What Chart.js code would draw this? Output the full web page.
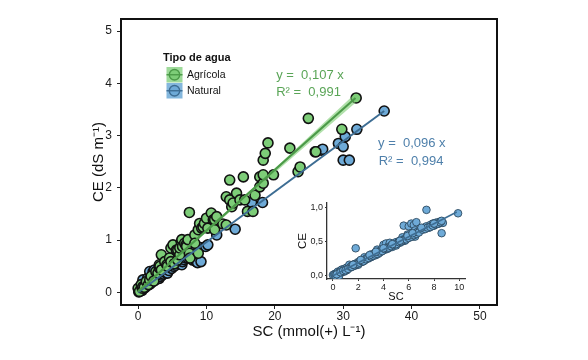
<!DOCTYPE html>
<html><head><meta charset="utf-8">
<script src="https://cdn.jsdelivr.net/npm/chart.js@4/dist/chart.umd.min.js"></script>
<style>
html,body{margin:0;padding:0;background:#fff;}
#wrap{position:relative;width:588px;height:360px;}
#main{position:absolute;left:0;top:0;}
#inset{position:absolute;left:280px;top:195px;}
</style></head>
<body>
<div id="wrap">
<canvas id="main" width="588" height="360"></canvas>
<canvas id="inset" width="195" height="110"></canvas>
</div>
<script>
// ---- data ----
const agricolaSC = [0.0,0.2,0.45,0.6,0.7,0.9,1.2,1.5,1.7,1.9,2.3,2.6,2.9,3.1,3.1,3.2,3.4,3.4,3.9,4.2,4.3,4.6,4.8,4.8,5.1,5.3,5.6,5.8,5.8,6.1,6.1,6.3,6.4,6.5,6.8,7.0,7.1,7.3,7.5,7.5,7.6,8.3,8.3,8.8,8.8,9.0,9.3,9.5,9.7,10.0,10.2,10.7,11.0,11.2,11.2,11.5,12.4,12.9,12.9,13.4,13.4,13.7,13.9,14.4,14.9,15.4,15.6,16.0,16.8,17.1,17.8,17.8,18.3,18.3,18.3,18.6,19.0,19.8,22.2,23.4,23.7,24.9,26.0,29.8,31.9];
const agricolaCE = [0.08,0.02,0.15,0.08,0.11,0.10,0.21,0.15,0.24,0.31,0.22,0.40,0.37,0.47,0.53,0.50,0.43,0.72,0.59,0.53,0.50,0.66,0.59,0.85,0.91,0.55,0.81,0.62,0.81,0.72,0.85,0.97,1.01,0.88,0.94,0.91,0.88,1.01,0.75,1.53,0.66,1.10,0.94,1.20,0.75,1.32,1.23,1.25,1.32,1.42,1.23,1.52,1.39,1.39,1.20,1.45,1.31,1.29,1.83,2.15,1.77,1.64,1.71,1.90,1.77,2.21,1.77,1.55,1.55,1.86,2.21,2.02,2.09,2.25,2.53,2.66,2.86,2.25,2.76,2.31,2.40,3.33,2.69,3.12,3.72];
const naturalSC = [0.1,0.3,0.5,0.6,0.7,0.8,0.9,1.0,1.2,1.4,1.4,1.6,1.7,1.8,2.0,2.2,2.3,2.4,2.5,2.7,2.9,3.1,3.2,3.5,3.7,4.0,4.3,4.5,4.6,4.8,4.9,5.2,5.5,5.8,6.3,6.4,6.5,6.7,7.0,7.3,7.4,7.8,8.0,8.2,8.5,8.5,8.7,9.1,9.2,9.9,10.2,11.5,14.2,16.6,18.2,25.9,26.8,27.0,29.3,30.0,30.3,30.0,30.9,32.0,36.0];
const naturalCE = [0.01,0.03,0.05,0.04,0.24,0.08,0.11,0.09,0.12,0.27,0.15,0.15,0.40,0.17,0.20,0.40,0.22,0.43,0.24,0.26,0.27,0.27,0.30,0.33,0.35,0.38,0.37,0.42,0.53,0.50,0.46,0.50,0.52,0.56,0.56,0.53,0.59,0.63,0.66,0.66,0.70,0.74,0.62,0.78,0.59,0.75,0.57,0.86,0.59,0.88,0.91,1.10,1.21,1.72,1.72,2.69,2.72,2.74,2.85,2.79,2.98,2.53,2.53,3.12,3.47];
// fitted lines and confidence band (as drawn)
const agricolaFitSC = [0, 31.8];
const agricolaFitCE = [0.02, 3.72];
const agricolaBandSC = [0, 10, 20, 31.8];
const agricolaBandLow = [0.00, 1.15, 2.29, 3.63];
const agricolaBandHigh = [0.04, 1.20, 2.37, 3.81];
const naturalFitSC = [0, 36.0];
const naturalFitCE = [0, 3.47];
// inset (Natural, low range)
const insetSC = [0.0,0.1,0.2,0.2,0.3,0.4,0.4,0.5,0.5,0.6,0.7,0.7,0.8,0.9,0.9,1.0,1.1,1.1,1.2,1.3,1.3,1.4,1.5,1.6,1.7,1.8,1.8,1.9,2.0,2.0,2.1,2.2,2.3,2.4,2.5,2.5,2.6,2.7,2.8,2.9,3.0,3.0,3.1,3.2,3.3,3.4,3.5,3.5,3.6,3.7,3.8,3.9,4.0,4.0,4.1,4.2,4.2,4.3,4.4,4.5,4.5,4.6,4.7,4.8,4.9,5.0,5.0,5.1,5.2,5.3,5.4,5.5,5.5,5.6,5.6,5.7,5.8,5.9,6.0,6.0,6.1,6.2,6.2,6.3,6.4,6.4,6.5,6.5,6.6,6.7,7.0,7.2,7.4,7.4,7.6,7.7,7.8,7.9,8.0,8.1,8.2,8.3,8.4,8.5,8.6,8.7,9.9,
  0.3,0.6,0.8,1.0,1.2,1.4,1.5,1.7,1.9,2.1,2.3,2.4,2.6,2.8,3.0,3.2,3.3,3.5,3.7,3.9,4.1,4.3,4.4,4.6,4.8,5.0,5.2,5.4,5.6,5.8,6.0,6.2,6.4,6.6,6.8,7.1,7.3,7.5,7.7,7.9,8.1,8.3,8.5,8.6,1.6,2.2,2.9,3.4,4.0,4.7,5.3,5.9,6.3,7.0,8.0];
const insetCE = [0.01,0.02,0.00,0.03,0.04,0.02,0.06,0.05,0.00,0.07,0.05,0.09,0.08,0.10,0.06,0.09,0.12,0.08,0.11,0.13,0.16,0.12,0.15,0.14,0.17,0.15,0.40,0.18,0.20,0.16,0.19,0.22,0.20,0.24,0.22,0.27,0.24,0.26,0.25,0.29,0.27,0.31,0.28,0.30,0.33,0.30,0.34,0.38,0.32,0.36,0.35,0.40,0.37,0.45,0.38,0.42,0.47,0.39,0.43,0.41,0.48,0.44,0.42,0.47,0.45,0.49,0.44,0.47,0.50,0.48,0.52,0.50,0.56,0.53,0.73,0.51,0.55,0.60,0.56,0.72,0.58,0.62,0.76,0.57,0.74,0.60,0.57,0.66,0.78,0.64,0.68,0.70,0.96,0.72,0.70,0.74,0.72,0.76,0.73,0.77,0.75,0.78,0.76,0.79,0.62,0.77,0.91,
  0.02,0.05,0.07,0.08,0.10,0.13,0.13,0.15,0.17,0.19,0.21,0.21,0.24,0.26,0.28,0.29,0.31,0.32,0.34,0.36,0.39,0.40,0.41,0.43,0.45,0.46,0.49,0.50,0.52,0.53,0.55,0.57,0.59,0.61,0.63,0.67,0.68,0.70,0.71,0.73,0.75,0.76,0.78,0.80,0.16,0.23,0.30,0.35,0.40,0.46,0.51,0.58,0.62,0.70,0.76];
const insetFitSC = [0, 9.8];
const insetFitCE = [0, 0.93];
// ticks
const mainXTicks = [0,10,20,30,40,50];
const mainYTicks = [0,1,2,3,4,5];
const insetXTicks = [0,2,4,6,8,10];
const insetYTicks = [0,0.5,1.0];
const legendTitle = 'Tipo de agua';
const seriesNames = ['Agrícola','Natural'];
const eqAgricola = ['y =  0,107 x','R² =  0,991'];
const eqNatural = ['y =  0,096 x','R² =  0,994'];

// ---- helpers ----
const pts = (xs, ys) => xs.map((x,i)=>({x:x, y:ys[i]}));
const FONT = "'Liberation Sans', Arial, sans-serif";
const GREEN = '#7dcd78', BLUE = '#6eaad7';
const GREEN_LINE = '#4b9a48', BLUE_LINE = '#3d6d93';
const GREEN_TXT = '#5aa557', BLUE_TXT = '#4f80ab';
const setTicks = arr => s => { s.ticks = arr.map(v=>({value:v})); };
const comma = v => v.toFixed(1).replace('.', ',');

const framePlugin = {
  id:'frame',
  afterDraw(chart){
    const {ctx, chartArea:a, scales} = chart;
    ctx.save();
    ctx.strokeStyle = '#111'; ctx.lineWidth = 2;
    ctx.strokeRect(a.left, a.top, a.right-a.left, a.bottom-a.top);
    // equations
    const xs = scales.x, ys = scales.y;
    ctx.font = '13px ' + FONT;
    ctx.textAlign = 'left'; ctx.textBaseline = 'middle';
    ctx.fillStyle = GREEN_TXT;
    ctx.fillText(eqAgricola[0], xs.getPixelForValue(20.2), ys.getPixelForValue(4.15));
    ctx.fillText(eqAgricola[1], xs.getPixelForValue(20.2), ys.getPixelForValue(3.83));
    ctx.fillStyle = BLUE_TXT;
    ctx.fillText(eqNatural[0], xs.getPixelForValue(35.1), ys.getPixelForValue(2.85));
    ctx.fillText(eqNatural[1], xs.getPixelForValue(35.2), ys.getPixelForValue(2.50));
    // legend
    ctx.fillStyle = '#111';
    ctx.font = 'bold 11px ' + FONT;
    ctx.fillText(legendTitle, 163, 58);
    const keys = [[GREEN, GREEN_LINE, 'rgba(125,205,120,0.75)'], [BLUE, BLUE_LINE, 'rgba(110,170,215,0.85)']];
    keys.forEach((k,i)=>{
      const y0 = 67 + i*16;
      ctx.fillStyle = k[2];
      ctx.fillRect(166.5, y0, 16, 15.5);
      ctx.beginPath(); ctx.arc(174.5, y0+7.75, 5.2, 0, Math.PI*2);
      ctx.fillStyle = k[0]; ctx.fill();
      ctx.lineWidth = 1.4; ctx.strokeStyle = k[1]; ctx.stroke();
      ctx.beginPath(); ctx.moveTo(166.5, y0+7.75); ctx.lineTo(182.5, y0+7.75); ctx.stroke();
      ctx.fillStyle = '#111';
      ctx.font = '10.5px ' + FONT;
      ctx.fillText(seriesNames[i], 187, y0+8);
    });
    ctx.restore();
  }
};

new Chart(document.getElementById('main'), {
  type:'scatter',
  data:{ datasets:[
    {type:'line', data:pts(agricolaFitSC, agricolaFitCE), borderColor:GREEN_LINE, borderWidth:2.2, pointRadius:0, order:0},
    {type:'line', data:pts(naturalFitSC, naturalFitCE), borderColor:BLUE_LINE, borderWidth:2, pointRadius:0, order:1},
    {type:'line', data:pts(agricolaBandSC, agricolaBandLow), borderWidth:0, borderColor:'rgba(0,0,0,0)', pointRadius:0, fill:false, order:2},
    {type:'line', data:pts(agricolaBandSC, agricolaBandHigh), borderWidth:0, borderColor:'rgba(0,0,0,0)', pointRadius:0, fill:'-1', backgroundColor:'rgba(125,205,115,0.6)', order:2},
    {label:seriesNames[0], data:pts(agricolaSC, agricolaCE), backgroundColor:GREEN, borderColor:'#111', borderWidth:1.6, pointRadius:5, order:3},
    {label:seriesNames[1], data:pts(naturalSC, naturalCE), backgroundColor:BLUE, borderColor:'#111', borderWidth:1.6, pointRadius:5, order:4}
  ]},
  options:{
    responsive:false, animation:false, devicePixelRatio:1,
    layout:{padding:{top:19, right:91, left:0, bottom:0}},
    plugins:{legend:{display:false}, tooltip:{enabled:false}},
    scales:{
      x:{type:'linear', min:-2.5, max:52.5,
        afterBuildTicks:setTicks(mainXTicks),
        afterFit:s=>{s.height=55;},
        grid:{drawOnChartArea:false, drawTicks:true, tickLength:4, color:'#222', lineWidth:1},
        border:{display:false},
        ticks:{font:{size:12, family:FONT}, color:'#1a1a1a', padding:0, maxRotation:0},
        title:{display:true, text:'SC (mmol(+) L⁻¹)', font:{size:15, family:FONT}, color:'#111', padding:{top:0,bottom:19}}
      },
      y:{type:'linear', min:-0.24, max:5.23,
        afterBuildTicks:setTicks(mainYTicks),
        afterFit:s=>{s.width=121;},
        grid:{drawOnChartArea:false, drawTicks:true, tickLength:4, color:'#222', lineWidth:1},
        border:{display:false},
        ticks:{font:{size:12, family:FONT}, color:'#1a1a1a', padding:5},
        title:{display:true, text:'CE (dS m⁻¹)', font:{size:15, family:FONT}, color:'#111', padding:{top:90,bottom:0}}
      }
    }
  },
  plugins:[framePlugin]
});

new Chart(document.getElementById('inset'), {
  type:'scatter',
  data:{ datasets:[
    {type:'line', data:pts(insetFitSC, insetFitCE), borderColor:BLUE_LINE, borderWidth:1.6, pointRadius:0, order:0},
    {data:pts(insetSC, insetCE), backgroundColor:BLUE, borderColor:'#2d4a60', borderWidth:0.9, pointRadius:3.8, order:1}
  ]},
  options:{
    responsive:false, animation:false, devicePixelRatio:1,
    layout:{padding:{top:8, right:10, left:0, bottom:0}},
    plugins:{legend:{display:false}, tooltip:{enabled:false}},
    scales:{
      x:{type:'linear', min:-0.47, max:10.45,
        afterBuildTicks:setTicks(insetXTicks),
        afterFit:s=>{s.height=26;},
        grid:{drawOnChartArea:false, drawTicks:true, tickLength:2, color:'#333'},
        border:{display:true, color:'#333', width:1.3},
        ticks:{font:{size:9, family:FONT}, color:'#222', padding:1, maxRotation:0},
        title:{display:true, text:'SC', font:{size:11, family:FONT}, color:'#111', padding:{top:0,bottom:1}}
      },
      y:{type:'linear', min:-0.048, max:1.06,
        afterBuildTicks:setTicks(insetYTicks),
        afterFit:s=>{s.width=47;},
        grid:{drawOnChartArea:false, drawTicks:true, tickLength:2, color:'#333'},
        border:{display:true, color:'#333', width:1.3},
        ticks:{font:{size:9, family:FONT}, color:'#222', padding:2, callback:v=>comma(v)},
        title:{display:true, text:'CE', font:{size:11.5, family:FONT}, color:'#111', padding:{top:16,bottom:0}}
      }
    }
  }
});
</script>
</body></html>
